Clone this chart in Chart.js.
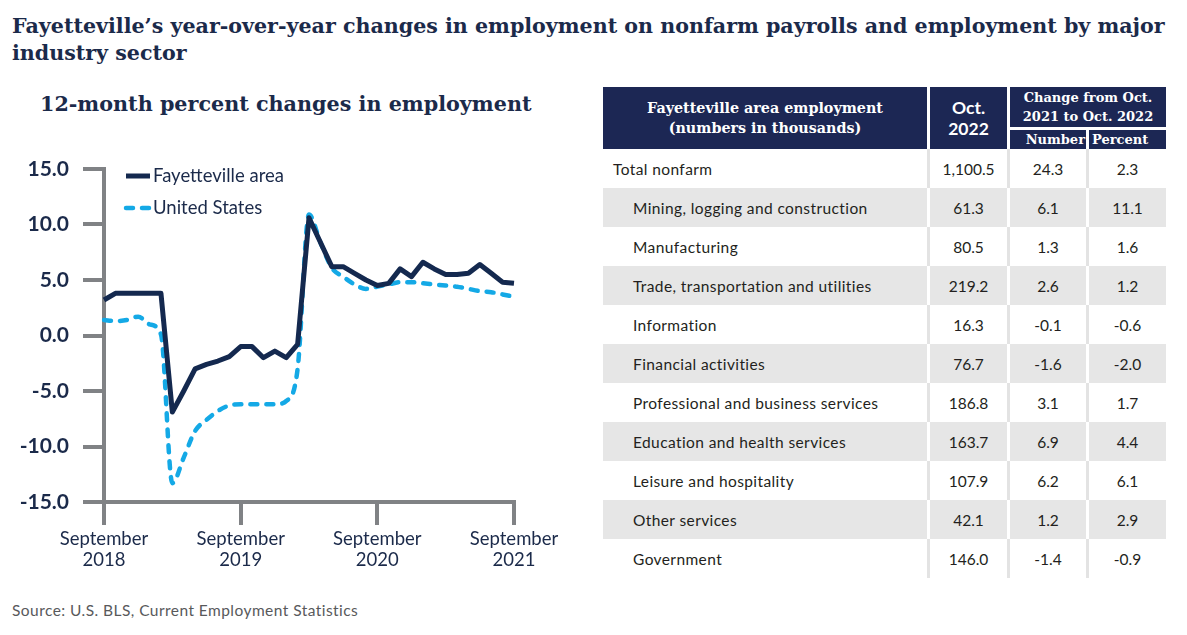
<!DOCTYPE html>
<html>
<head>
<meta charset="utf-8">
<script src="https://cdn.jsdelivr.net/npm/chart.js@4.4.1/dist/chart.umd.min.js"></script>
<style>
  body { margin: 0; width: 1187px; height: 635px; background: #fff; position: relative; overflow: hidden; font-family: Lato, sans-serif; }
  #title { position: absolute; left: 12px; top: 13px; font: bold 20.6px "DejaVu Serif", serif; color: #1b2a4a; line-height: 27px; white-space: nowrap; }
  #subtitle { position: absolute; left: 40px; top: 92px; font: bold 20.7px "DejaVu Serif", serif; color: #1b2a4a; white-space: nowrap; }
  #chartBox { position: absolute; left: 0; top: 140px; width: 580px; height: 440px; }
  #source { position: absolute; left: 12px; top: 601px; font-size: 15.5px; letter-spacing: 0.45px; color: #58595b; }
  #table { position: absolute; left: 603px; top: 87px; width: 563px; }
  .head { display: grid; grid-template-columns: 324px 77px 76px 77px; grid-template-rows: 40px 19px; gap: 3px; background: #fff; }
  .head div { background: #1c2754; color: #fff; display: flex; align-items: center; justify-content: center; text-align: center; font: bold 13px "DejaVu Serif", serif; line-height: 19px; }
  .head .lab { font-size: 14.3px; line-height: 20px; }
  .head .oct { font: bold 17.5px Lato, sans-serif; line-height: 21px; }
  .head .num { justify-content: flex-end; padding-right: 1px; }
  .head .pct { justify-content: flex-start; padding-left: 3px; }
  .row { display: grid; grid-template-columns: 324px 77px 76px 77px; column-gap: 3px; height: 39px; background: #e3e3e3; }
  .row div { background: #fff; display: flex; align-items: center; justify-content: center; font-size: 15.5px; color: #231f20; }
  .row div.lab { justify-content: flex-start; padding-left: 30px; letter-spacing: 0.4px; }
  .row div.lab.top { padding-left: 10px; }
  .row.alt { background: #fff; }
  .row.alt div { background: #e6e6e6; }
</style>
</head>
<body>
<div id="title">Fayetteville’s year-over-year changes in employment on nonfarm payrolls and employment by major<br>industry sector</div>
<div id="subtitle">12-month percent changes in employment</div>
<div id="chartBox"><canvas id="myChart" width="580" height="440"></canvas></div>
<div id="table"></div>
<div id="source">Source: U.S. BLS, Current Employment Statistics</div>
<script>
const months = ['Sep 2018','Oct 2018','Nov 2018','Dec 2018','Jan 2019','Feb 2019','Mar 2019','Apr 2019','May 2019','Jun 2019','Jul 2019','Aug 2019',
  'Sep 2019','Oct 2019','Nov 2019','Dec 2019','Jan 2020','Feb 2020','Mar 2020','Apr 2020','May 2020','Jun 2020','Jul 2020','Aug 2020',
  'Sep 2020','Oct 2020','Nov 2020','Dec 2020','Jan 2021','Feb 2021','Mar 2021','Apr 2021','May 2021','Jun 2021','Jul 2021','Aug 2021','Sep 2021']
const xTickLabels = [['September','2018'],['September','2019'],['September','2020'],['September','2021']]

const fayetteville = [3.2, 3.8, 3.8, 3.8, 3.8, 3.8, -6.9, -5.0, -3.0, -2.6, -2.3, -1.9,
  -1.0, -1.0, -2.0, -1.4, -2.0, -0.8, 10.6, 8.4, 6.2, 6.2, 5.6, 5.0,
  4.5, 4.7, 6.0, 5.3, 6.6, 6.0, 5.5, 5.5, 5.6, 6.4, 5.6, 4.8, 4.7]
const unitedStates = [1.4, 1.3, 1.4, 1.7, 1.0, 0.1, -13.3, -11.0, -8.6, -7.6, -6.8, -6.3,
  -6.2, -6.2, -6.2, -6.2, -5.9, -3.0, 10.9, 8.4, 6.1, 5.3, 4.6, 4.2,
  4.4, 4.6, 4.8, 4.8, 4.7, 4.6, 4.5, 4.4, 4.2, 4.0, 3.9, 3.7, 3.5]

// table data
const sectors = ['Total nonfarm','Mining, logging and construction','Manufacturing','Trade, transportation and utilities','Information',
  'Financial activities','Professional and business services','Education and health services','Leisure and hospitality','Other services','Government']
const oct2022 = ['1,100.5','61.3','80.5','219.2','16.3','76.7','186.8','163.7','107.9','42.1','146.0']
const changeNumber = ['24.3','6.1','1.3','2.6','-0.1','-1.6','3.1','6.9','6.2','1.2','-1.4']
const changePercent = ['2.3','11.1','1.6','1.2','-0.6','-2.0','1.7','4.4','6.1','2.9','-0.9']

const navy = '#14294f'
const grey = '#808285'
const textColor = '#1b2a4a'

// build table
let html = `<div class="head">
  <div class="lab" style="grid-row:1/3">Fayetteville area employment<br>(numbers in thousands)</div>
  <div class="oct" style="grid-row:1/3">Oct.<br>2022</div>
  <div style="grid-column:3/5">Change from Oct.<br>2021 to Oct. 2022</div>
  <div class="num">Number</div><div class="pct">Percent</div></div>`
sectors.forEach((s, i) => {
  html += `<div class="row${i % 2 ? ' alt' : ''}"><div class="lab${i === 0 ? ' top' : ''}">${s}</div>` +
    `<div>${oct2022[i]}</div><div>${changeNumber[i]}</div><div>${changePercent[i]}</div></div>`
})
document.getElementById('table').innerHTML = html

Chart.defaults.font.family = 'Lato'

const legendPlugin = {
  id: 'sideLegend',
  afterDraw(chart) {
    const ctx = chart.ctx
    const area = chart.chartArea
    chart.data.datasets.forEach((ds, i) => {
      const y = area.top + 7 + i * 32
      ctx.save()
      ctx.strokeStyle = ds.borderColor
      ctx.lineWidth = ds.borderWidth
      ctx.lineCap = ds.borderDash ? 'round' : 'butt'
      ctx.setLineDash(ds.borderDash || [])
      ctx.beginPath()
      ctx.moveTo(area.left + 22, y)
      ctx.lineTo(area.left + 46, y)
      ctx.stroke()
      ctx.setLineDash([])
      ctx.fillStyle = textColor
      ctx.font = '18.5px Lato'
      ctx.textBaseline = 'middle'
      ctx.fillText(ds.label, area.left + 49, y)
      ctx.restore()
    })
  }
}

new Chart('myChart', {
  type: 'line',
  data: {
    labels: months,
    datasets: [{
      label: 'Fayetteville area',
      data: fayetteville,
      borderColor: navy,
      borderWidth: 5,
      borderJoinStyle: 'round',
      pointRadius: 0,
      tension: 0
    }, {
      label: 'United States',
      data: unitedStates,
      borderColor: '#14a9e6',
      borderWidth: 4.5,
      borderDash: [7, 9],
      borderCapStyle: 'round',
      cubicInterpolationMode: 'monotone',
      pointRadius: 0
    }]
  },
  options: {
    responsive: false,
    animation: false,
    layout: { padding: { top: 29, right: 66, left: 0, bottom: 0 } },
    plugins: { legend: { display: false }, tooltip: { enabled: false } },
    scales: {
      x: {
        ticks: {
          autoSkip: false,
          maxRotation: 0,
          padding: 4,
          color: textColor,
          font: { size: 18.5, lineHeight: 1.12 },
          callback: (v, i) => i % 12 === 0 ? xTickLabels[i / 12] : ''
        },
        grid: {
          drawOnChartArea: false,
          tickLength: 23,
          lineWidth: 4,
          color: c => c.index % 12 === 0 ? grey : 'rgba(0,0,0,0)'
        },
        border: { color: grey, width: 4 },
        afterFit: s => { s.height = 78 }
      },
      y: {
        min: -15,
        max: 15,
        ticks: {
          stepSize: 5,
          padding: 14,
          color: textColor,
          font: { size: 21, weight: 'bold' },
          callback: v => v.toFixed(1)
        },
        grid: { drawOnChartArea: false, tickLength: 21, lineWidth: 4, color: grey },
        border: { color: grey, width: 4 },
        afterFit: s => { s.width = 104 }
      }
    }
  },
  plugins: [legendPlugin]
})
</script>
</body>
</html>
